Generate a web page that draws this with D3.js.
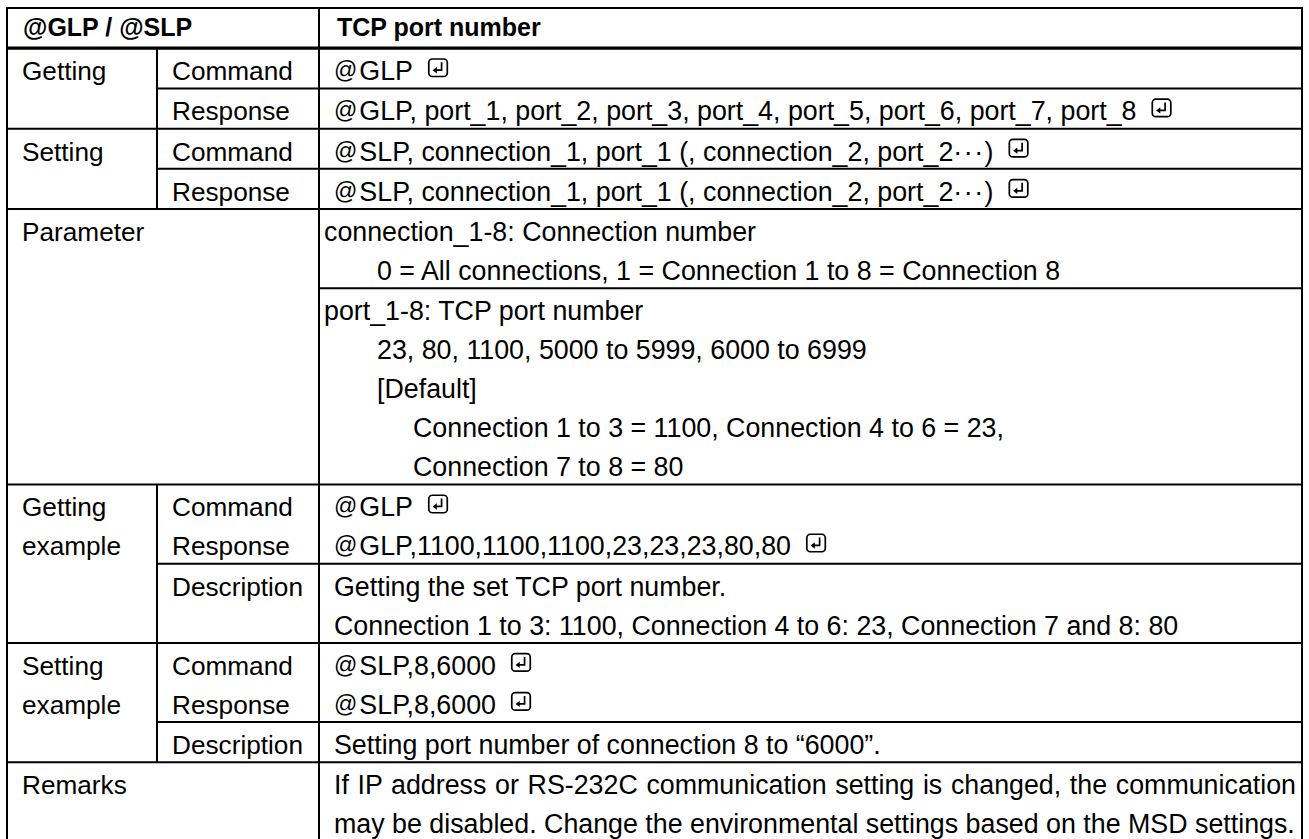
<!DOCTYPE html>
<html><head><meta charset="utf-8">
<script src="https://cdn.jsdelivr.net/npm/d3@7"></script>
<style>html,body{margin:0;padding:0;background:#fff;overflow:hidden}</style>
</head><body><svg id="c" width="1309" height="839"></svg>
<script>
// ---------- DATA ----------
const headerLabels = ["@GLP / @SLP", "TCP port number"];
const groupLabels = [["Getting"], ["Setting"], ["Parameter"], ["Getting", "example"], ["Setting", "example"], ["Remarks"]];
const subLabels = [
  [["Command"], ["Response"]],
  [["Command"], ["Response"]],
  [[], []],
  [["Command", "Response"], ["Description"]],
  [["Command", "Response"], ["Description"]],
  [[]]
];
// leading pairs of spaces = indent level, trailing " ⏎" = return-key mark
const getSetLines = [
  [["@GLP ⏎"], ["@GLP, port_1, port_2, port_3, port_4, port_5, port_6, port_7, port_8 ⏎"]],
  [["@SLP, connection_1, port_1 (, connection_2, port_2\u00B7\u00B7\u00B7) ⏎"], ["@SLP, connection_1, port_1 (, connection_2, port_2\u00B7\u00B7\u00B7) ⏎"]]
];
const parameterLines = [
  ["connection_1-8: Connection number", "  0 = All connections, 1 = Connection 1 to 8 = Connection 8"],
  ["port_1-8: TCP port number", "  23, 80, 1100, 5000 to 5999, 6000 to 6999", "  [Default]",
   "    Connection 1 to 3 = 1100, Connection 4 to 6 = 23,", "    Connection 7 to 8 = 80"]
];
const exampleLines = [
  [["@GLP ⏎", "@GLP,1100,1100,1100,23,23,23,80,80 ⏎"],
   ["Getting the set TCP port number.", "Connection 1 to 3: 1100, Connection 4 to 6: 23, Connection 7 and 8: 80"]],
  [["@SLP,8,6000 ⏎", "@SLP,8,6000 ⏎"],
   ["Setting port number of connection 8 to \u201C6000\u201D."]]
];
const remarkLines = [
  ["If IP address or RS-232C communication setting is changed, the communication",
   "may be disabled. Change the environmental settings based on the MSD settings."]
];
const contentLines = [getSetLines[0], getSetLines[1], parameterLines, exampleLines[0], exampleLines[1], remarkLines];

// ---------- LAYOUT ----------
const svg = d3.select("#c");
const FONT = "'Liberation Sans', Arial, Helvetica, sans-serif";
const FS_LABEL = 26.2, FS_BODY = 26.8, FS_HEAD = 25, LH = 39, PADU = 0.031;
const colEdge = d3.scaleOrdinal().domain(["left", "mid1", "mid2", "right"]).range([7, 157, 319, 1302]);
const y = d3.scaleLinear().domain([0, 1]).range([8, 8 + LH]);
const indentPx = d3.scaleOrdinal().domain([0, 1, 2]).range([0, 53, 89]);

let u = 0;
const headerTop = u; u += 1 + PADU;
const headerBottom = u;
const sections = groupLabels.map((g, s) => {
  const subs = contentLines[s].map((lines, r) => {
    const top = u; u += lines.length + PADU;
    return { top, bottom: u, lines, sub: subLabels[s][r] || [] };
  });
  return { name: g.join(" "), group: g, hasSub: subLabels[s].some(d => d.length), top: subs[0].top, bottom: u, subs };
});
const totalBottom = u;

const gText = svg.append("g").attr("font-family", FONT).attr("fill", "#000");
const gLines = svg.append("g").attr("stroke", "#000").attr("fill", "none");

// header
gText.append("text").attr("x", colEdge("left") + 16).attr("y", y(headerTop) + 28)
  .attr("font-size", FS_HEAD).attr("font-weight", "bold").text(headerLabels[0]);
gText.append("text").attr("x", colEdge("mid2") + 18).attr("y", y(headerTop) + 28)
  .attr("font-size", FS_HEAD).attr("font-weight", "bold").text(headerLabels[1]);

function addLine(x1, y1, x2, y2, w) {
  gLines.append("line").attr("x1", x1).attr("y1", y1).attr("x2", x2).attr("y2", y2).attr("stroke-width", w || 2);
}

function returnMark(x, baseline) {
  const g = svg.append("g").attr("transform", `translate(${x},${baseline - 22})`)
    .attr("stroke", "#000").attr("fill", "none").attr("stroke-width", 1.7);
  g.append("rect").attr("x", 0.8).attr("y", 0.8).attr("width", 18.5).attr("height", 17.5).attr("rx", 3.5);
  g.append("path").attr("d", "M13.6,4 V12 H7.5");
  g.append("path").attr("d", "M4.6,12 L8.8,8.8 L8.8,15.2 Z").attr("fill", "#000").attr("stroke", "none");
}

function drawLine(text, x, baseline, justifyTo) {
  let t = text, ret = false;
  const m = t.match(/^ */); const lvl = Math.floor(m[0].length / 2); t = t.slice(m[0].length);
  if (t.endsWith(" ⏎")) { ret = true; t = t.slice(0, -2); }
  const x0 = x + indentPx(lvl);
  const el = gText.append("text").attr("x", x0).attr("y", baseline).attr("font-size", FS_BODY);
  const parts = t.split(/(@|\u00B7\u00B7\u00B7)/);
  let shift = 0, prev = null;
  parts.forEach(p => {
    if (!p) return;
    const ts = el.append("tspan").text(p);
    if (shift) { ts.attr("dy", shift); shift = 0; }
    if (p === "@") { ts.attr("font-size", 23).attr("dy", -2); shift = 2; }
    else if (p === "\u00B7\u00B7\u00B7") ts.attr("letter-spacing", 1.5);
    if (prev === "@") ts.attr("dx", 2);
    prev = p;
  });
  const w = el.node().getComputedTextLength();
  if (justifyTo) {
    const spaces = (t.match(/ /g) || []).length;
    const extra = justifyTo - (x0 + w);
    if (extra > 0 && spaces) el.attr("word-spacing", extra / spaces);
  }
  if (ret) {
    const bb = el.node().getBBox();
    returnMark(bb.x + bb.width + 15, baseline);
  }
}

sections.forEach(sec => {
  const top = y(sec.top);
  sec.group.forEach((g, i) => {
    gText.append("text").attr("x", colEdge("left") + 15).attr("y", top + 32 + i * LH)
      .attr("font-size", FS_LABEL).text(g);
  });
  const inset = sec.name === "Parameter" ? 5 : 15;
  sec.subs.forEach((sb, r) => {
    const st = y(sb.top);
    sb.sub.forEach((lab, i) => {
      gText.append("text").attr("x", colEdge("mid1") + 15).attr("y", st + 32 + i * LH)
        .attr("font-size", FS_LABEL).text(lab);
    });
    sb.lines.forEach((ln, i) => {
      const just = (sec.name === "Remarks" && i < sb.lines.length - 1) ? colEdge("right") - 6 : null;
      drawLine(ln, colEdge("mid2") + inset, st + 32 + i * LH, just);
    });
    const isLast = r === sec.subs.length - 1;
    const xs = isLast ? colEdge("left") : (sec.hasSub ? colEdge("mid1") : colEdge("mid2"));
    addLine(xs, y(sb.bottom), colEdge("right"), y(sb.bottom));
  });
  if (sec.hasSub) addLine(colEdge("mid1"), top, colEdge("mid1"), y(sec.bottom));
});

// grid frame
addLine(colEdge("left"), y(headerTop), colEdge("right"), y(headerTop));
addLine(colEdge("left"), y(headerBottom), colEdge("right"), y(headerBottom), 3.2);
addLine(colEdge("left"), y(headerTop) - 1, colEdge("left"), y(totalBottom) + 1);
addLine(colEdge("right"), y(headerTop) - 1, colEdge("right"), y(totalBottom) + 1);
addLine(colEdge("mid2"), y(headerTop), colEdge("mid2"), y(totalBottom));
</script></body></html>
